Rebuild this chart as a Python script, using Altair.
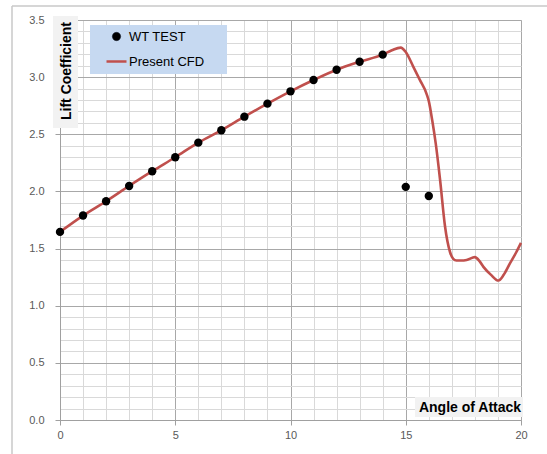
import altair as alt
import pandas as pd

# Wind-tunnel test data
wt_aoa = [0, 1, 2, 3, 4, 5, 6, 7, 8, 9, 10, 11, 12, 13, 14, 15, 16]
wt_cl = [1.646, 1.789, 1.914, 2.048, 2.177, 2.299, 2.427, 2.535, 2.654, 2.768,
         2.876, 2.975, 3.065, 3.135, 3.197, 2.04, 1.96]

# Present CFD curve
cfd_aoa = [0, 1, 2, 3, 4, 5, 6, 7, 8, 9, 10, 11, 12, 13, 14, 14.4, 14.78, 15.0,
           15.33, 15.6, 15.91, 16.0, 16.15, 16.3, 16.49, 16.7, 16.92, 17.06, 17.2,
           17.4, 17.64, 18.0, 18.2, 18.37, 18.7, 19.02, 19.25, 19.52, 19.8, 20.0]
cfd_cl = [1.646, 1.789, 1.914, 2.048, 2.177, 2.299, 2.427, 2.535, 2.654, 2.768,
          2.876, 2.975, 3.065, 3.135, 3.197, 3.235, 3.258, 3.22,
          3.09, 2.98, 2.85, 2.79, 2.62, 2.42, 2.10, 1.70, 1.47, 1.41, 1.395,
          1.395, 1.40, 1.425, 1.39, 1.34, 1.27, 1.22, 1.27, 1.37, 1.47, 1.55]

series = ["WT TEST", "Present CFD"]

wt_df = pd.DataFrame({"aoa": wt_aoa, "cl": wt_cl, "series": "WT TEST"})
cfd_df = pd.DataFrame({"aoa": cfd_aoa, "cl": cfd_cl})

x_ticks = list(range(0, 21))
y_ticks = [round(i * 0.1, 1) for i in range(0, 36)]

xscale = alt.Scale(domain=[0, 20], nice=False, zero=False)
yscale = alt.Scale(domain=[0, 3.5], nice=False)

x_axis = alt.Axis(
    values=x_ticks, tickCount=40, title=None, labelOverlap=False, labelFlush=False, format="d",
    labelExpr="datum.value % 5 === 0 ? datum.label : ''",
    gridColor={"condition": {"test": "datum.value % 5 === 0", "value": "#a8a8a8"}, "value": "#d9d9d9"},
    tickSize={"condition": {"test": "datum.value % 5 === 0", "value": 5}, "value": 0},
    tickColor="#a0a0a0", domainColor="#a0a0a0",
    labelColor="#595959", labelFontSize=11, labelPadding=4, labelFont="Liberation Sans",
)
y_axis = alt.Axis(
    values=y_ticks, tickCount=60, title=None, format=".1f", labelOverlap=False, labelFlush=False,
    labelExpr="round(datum.value * 10) % 5 === 0 ? datum.label : ''",
    gridColor={"condition": {"test": "round(datum.value * 10) % 5 === 0", "value": "#a8a8a8"}, "value": "#d9d9d9"},
    tickSize={"condition": {"test": "round(datum.value * 10) % 5 === 0", "value": 5}, "value": 0},
    tickColor="#a0a0a0", domainColor="#a0a0a0",
    labelColor="#595959", labelFontSize=11, labelPadding=11, labelFont="Liberation Sans",
)

base_x = alt.X("aoa:Q", scale=xscale, axis=x_axis)
base_y = alt.Y("cl:Q", scale=yscale, axis=y_axis)

line = alt.Chart(cfd_df).mark_line(color="#c0504d", strokeWidth=2.6, interpolate="monotone").encode(
    x=base_x, y=base_y
)

is_cfd = "datum.value === 'Present CFD'"
legend = alt.Legend(
    title="XX", titleOrient="right", titleOpacity=0, titleFontSize=13, titlePadding=0,
    titleFont="Liberation Sans", titleFontWeight="normal",
    orient="none", legendX=30, legendY=5,
    fillColor="#c6d9f1", padding=5, rowPadding=11,
    symbolOffset=15, labelOffset=6,
    labelFontSize=13, labelFont="Liberation Sans", labelColor="#000000",
    symbolSize=alt.ExprRef(expr=f"{is_cfd} ? 400 : 70"),
    symbolStrokeColor=alt.ExprRef(expr=f"{is_cfd} ? '#c0504d' : '#10182a'"),
    symbolStrokeWidth=alt.ExprRef(expr=f"{is_cfd} ? 2.5 : 0.5"),
)

points = alt.Chart(wt_df).mark_point(filled=True, size=70, opacity=1).encode(
    x=alt.X("aoa:Q", scale=xscale),
    y=alt.Y("cl:Q", scale=yscale),
    color=alt.Color("series:N", scale=alt.Scale(domain=series, range=["#000000", "#c0504d"]), legend=legend),
    shape=alt.Shape("series:N", scale=alt.Scale(domain=series, range=["circle", "stroke"]), legend=legend),
)

titles_df = pd.DataFrame({"t": ["Lift Coefficient", "Angle of Attack"]})

ybox = alt.Chart(titles_df).transform_filter("datum.t === 'Lift Coefficient'").mark_rect(
    color="#f2f2f2").encode(x=alt.value(-7), x2=alt.value(18), y=alt.value(-4), y2=alt.value(108))
xbox = alt.Chart(titles_df).transform_filter("datum.t === 'Angle of Attack'").mark_rect(
    color="#f2f2f2").encode(x=alt.value(355), x2=alt.value(463), y=alt.value(377), y2=alt.value(397))

ytitle = alt.Chart(titles_df).transform_filter("datum.t === 'Lift Coefficient'").mark_text(
    angle=270, fontWeight="bold", fontSize=14, font="Liberation Sans", color="#000000",
    align="center", baseline="middle").encode(text="t:N", x=alt.value(7), y=alt.value(51))
xtitle = alt.Chart(titles_df).transform_filter("datum.t === 'Angle of Attack'").mark_text(
    fontWeight="bold", fontSize=14, font="Liberation Sans", color="#000000",
    align="center", baseline="middle").encode(text="t:N", x=alt.value(410), y=alt.value(388))

frame_left = alt.Chart(titles_df).transform_filter("datum.t === 'Lift Coefficient'").mark_rule(
    color="#c8c8c8", strokeWidth=1.5).encode(x=alt.value(-48), y=alt.value(-14), y2=alt.value(440))
frame_top = alt.Chart(titles_df).transform_filter("datum.t === 'Lift Coefficient'").mark_rule(
    color="#c8c8c8", strokeWidth=1.5).encode(y=alt.value(-14), x=alt.value(-48), x2=alt.value(490))

chart = alt.layer(
    line, ybox, xbox, points, ytitle, xtitle, frame_left, frame_top
).properties(
    width=461, height=400,
    autosize=alt.AutoSizeParams(type="none"),
    padding={"left": 60, "top": 20, "right": 26, "bottom": 34},
).configure_view(stroke=None).configure(background="white")

chart.save("out.html", embed_options={"renderer": "svg", "actions": False})
